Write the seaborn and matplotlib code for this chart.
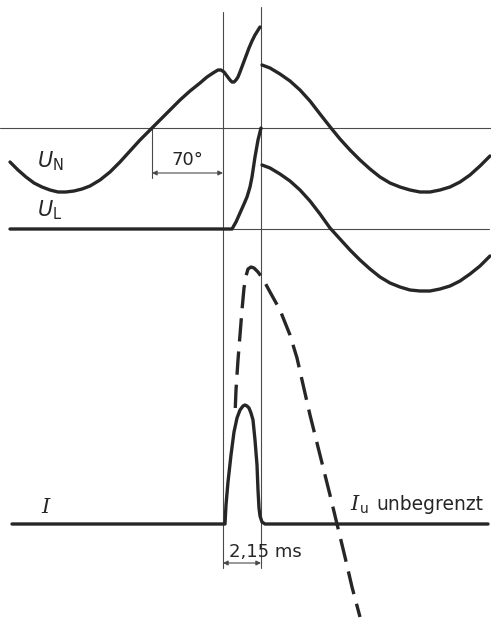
import matplotlib
matplotlib.use("Agg")
import matplotlib.pyplot as plt
import seaborn as sns

# curve points (pixel grid of the 491x618 picture, y down)
un_left_x = [10, 18, 26, 34, 42, 50, 58, 66, 74, 82, 90, 100, 110, 120, 130, 140, 152, 160, 170,
             180, 190, 200, 207, 213, 218, 221, 224, 227, 230, 232, 234, 236, 238, 240, 243, 246,
             249, 252, 255, 260]
un_left_y = [162, 170, 177, 183, 187, 190, 192, 192, 191, 189, 186, 180, 172, 162, 151, 140, 128,
             120, 110, 100, 91, 83, 77, 73, 70, 70, 72, 76, 80, 82, 82, 80, 77, 72, 64, 56,
             48, 41, 35, 27]
un_right_x = [262, 270, 280, 290, 300, 310, 320, 331, 340, 350, 360, 370, 380, 390, 400, 410,
              420, 430, 440, 450, 460, 470, 480, 490]
un_right_y = [65, 68, 74, 81, 90, 101, 114, 128, 139, 150, 160, 169, 177, 183, 187, 190,
              192, 192, 190, 187, 182, 175, 166, 156]

ul_left_x = [10, 232, 236, 240, 244, 247, 250, 252, 255, 258, 261]
ul_left_y = [229, 229, 222, 213, 204, 197, 187, 177, 157, 140, 128]
ul_right_x = [262, 270, 280, 290, 300, 310, 320, 330, 340, 350, 360, 370, 380, 390, 400, 410,
              420, 430, 440, 450, 460, 470, 480, 490]
ul_right_y = [165, 168, 174, 181, 190, 201, 214, 228, 239, 250, 260, 269, 277, 283, 287, 290,
              291, 291, 289, 286, 281, 274, 266, 256]

i_x = [12, 225, 226, 228, 231, 234, 237, 240, 243, 245, 247, 249, 251, 253, 255, 257, 258, 259,
       260, 262, 265, 488]
i_y = [524, 524, 505, 482, 455, 432, 418, 410, 406, 405, 406, 408, 413, 420, 440, 465, 490, 508,
       516, 522, 524, 524]

iu_x = [235, 236, 238, 240, 242, 244, 246, 248, 251, 254, 258, 263, 270, 280, 290, 297, 302,
        310, 320, 330, 337, 345, 352, 360]
iu_y = [415, 390, 360, 335, 310, 288, 276, 269, 267, 268, 272, 279, 292, 310, 335, 358, 380,
        415, 455, 495, 524, 557, 587, 617]

# reference lines
axis_un_y = 128
axis_ul_y = 229
switch_on_x = 223
switch_off_x = 261
phase_x = 152

ink = "#262626"
thin = "#4a4a4a"

sns.set_style("white")
fig = plt.figure(figsize=(4.91, 6.18), dpi=100)
ax = fig.add_axes([0, 0, 1, 1])
ax.set_xlim(0, 491)
ax.set_ylim(618, 0)
ax.axis("off")

# thin construction lines
ax.plot([0, 491], [axis_un_y, axis_un_y], color=thin, lw=0.8)
ax.plot([switch_on_x, 489], [axis_ul_y, axis_ul_y], color=thin, lw=0.8)
ax.plot([switch_on_x, switch_on_x], [12, 568], color=thin, lw=0.8)
ax.plot([switch_off_x, switch_off_x], [7, 568], color=thin, lw=0.8)
ax.plot([phase_x, phase_x], [axis_un_y, 178], color=thin, lw=0.8)

curves = [
    (un_left_x, un_left_y), (un_right_x, un_right_y),
    (ul_left_x, ul_left_y), (ul_right_x, ul_right_y),
    (i_x, i_y),
]
for xs, ys in curves:
    sns.lineplot(x=xs, y=ys, sort=False, estimator=None, color=ink, lw=2.4,
                 ax=ax, legend=False)

ln = sns.lineplot(x=iu_x, y=iu_y, sort=False, estimator=None, color=ink, lw=2.4,
                  ax=ax, legend=False)
ln.lines[-1].set_linestyle((7.9, (7, 3)))

# dimension arrows
arrow = dict(arrowstyle="<|-|>", color=thin, lw=0.8, mutation_scale=7,
             shrinkA=0, shrinkB=0)
ax.annotate("", xy=(phase_x, 173), xytext=(switch_on_x, 173), arrowprops=arrow)
ax.annotate("", xy=(switch_on_x, 563), xytext=(switch_off_x, 563), arrowprops=arrow)

ax.text(187, 165, "70°", fontsize=13, color=ink, ha="center", va="baseline")
ax.text(229, 557, "2,15 ms", fontsize=13, color=ink, ha="left", va="baseline")

ax.text(37, 167, r"$U_\mathrm{N}$", fontsize=15, color=ink, ha="left", va="baseline")
ax.text(37, 216, r"$U_\mathrm{L}$", fontsize=15, color=ink, ha="left", va="baseline")

ax.text(41, 513, "I", fontsize=15, color=ink, family="DejaVu Serif", style="italic",
        ha="left", va="baseline")
ax.text(350, 510, "I", fontsize=15, color=ink, family="DejaVu Serif", style="italic",
        ha="left", va="baseline")
ax.text(360, 513, "u", fontsize=10, color=ink, ha="left", va="baseline")
ax.text(376, 510, "unbegrenzt", fontsize=13.5, color=ink, ha="left", va="baseline")

fig.savefig("out.png", dpi=100)
plt.close(fig)
